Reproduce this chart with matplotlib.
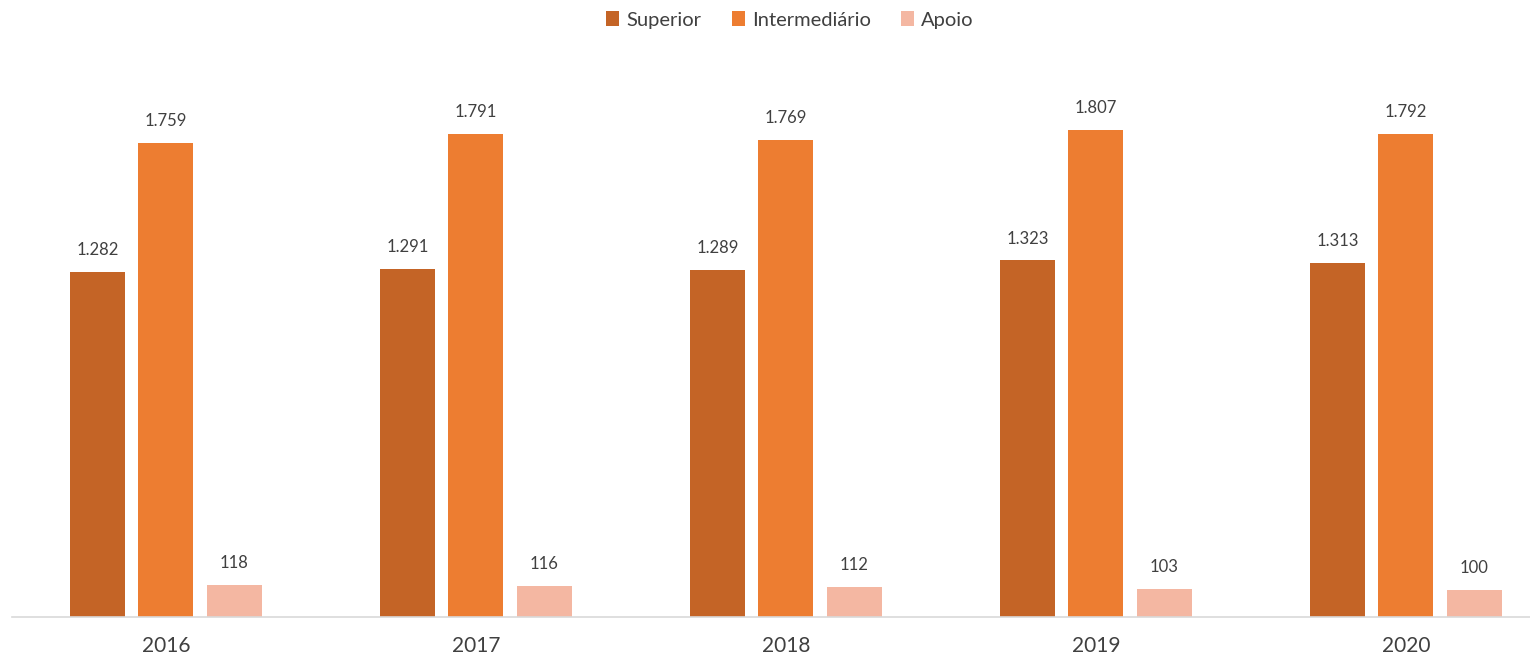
import matplotlib
matplotlib.use("Agg")
import matplotlib.pyplot as plt
import numpy as np

years = ["2016", "2017", "2018", "2019", "2020"]
series_names = ["Superior", "Intermediário", "Apoio"]
superior = [1282, 1291, 1289, 1323, 1313]
intermediario = [1759, 1791, 1769, 1807, 1792]
apoio = [118, 116, 112, 103, 100]
series_values = [superior, intermediario, apoio]
colors = ["#C46426", "#ED7D31", "#F4B7A2"]

plt.rcParams["font.family"] = ["Lato", "DejaVu Sans"]
text_color = "#404040"

W, H = 1530, 662
fig = plt.figure(figsize=(W / 100, H / 100), dpi=100)

# axes placed in pixel terms: baseline at y=617, left edge at x=12
base_px = 617
px_per_unit = 0.2695
ymax = 2000
top_px = base_px - ymax * px_per_unit
ax = fig.add_axes([12 / W, (H - base_px) / H, (W - 12) / W, (base_px - top_px) / H])

group_px = 310.0
first_center = 166.0
x = np.arange(len(years))
offset = 68.5 / group_px
width = 55 / group_px

for i, (name, vals, c) in enumerate(zip(series_names, series_values, colors)):
    pos = x + (i - 1) * offset
    bars = ax.bar(pos, vals, width=width, color=c, label=name, zorder=2)
    for b, v in zip(bars, vals):
        ax.annotate(f"{v:,}".replace(",", "."),
                    (b.get_x() + b.get_width() / 2, v),
                    xytext=(0, 10), textcoords="offset points",
                    ha="center", va="bottom", fontsize=12, color=text_color)

ax.set_xlim((12 - first_center) / group_px, (W - first_center) / group_px)
ax.set_ylim(0, ymax)
ax.set_xticks(x)
ax.set_xticklabels(years, fontsize=15, color=text_color)
ax.tick_params(axis="x", length=0, pad=14)
ax.set_yticks([])
for s in ["top", "right", "left"]:
    ax.spines[s].set_visible(False)
ax.spines["bottom"].set_color("#D9D9D9")
ax.spines["bottom"].set_linewidth(1.2)

leg = fig.legend(loc="center", bbox_to_anchor=(790 / W, 1 - 20 / H), ncol=3,
                 frameon=False, fontsize=14.5, handlelength=0.65, handleheight=0.7,
                 handletextpad=0.35, columnspacing=1.5)
for t in leg.get_texts():
    t.set_color(text_color)

fig.savefig("out.png", dpi=100)
